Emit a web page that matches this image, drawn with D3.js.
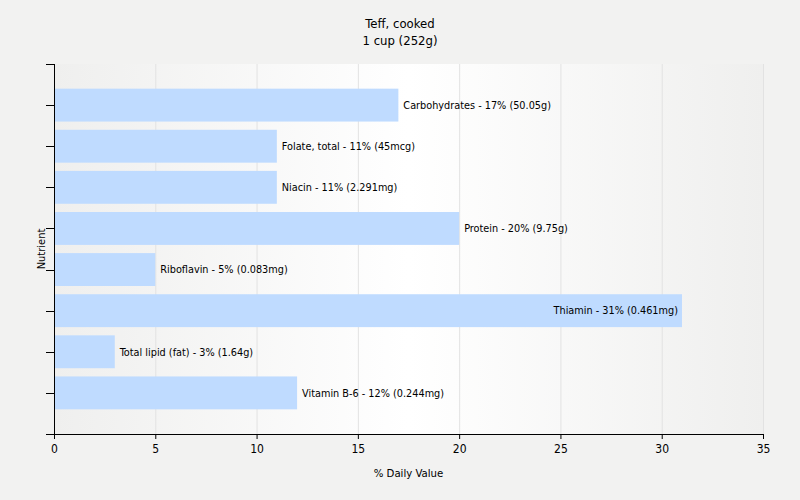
<!DOCTYPE html>
<html><head><meta charset="utf-8">
<script src="https://cdn.jsdelivr.net/npm/d3@7"></script>
<style>body{margin:0;background:#f2f2f1;}svg{display:block;font-family:Tahoma,"DejaVu Sans Condensed","Liberation Sans",sans-serif;}</style>
</head><body>
<svg id="c" width="800" height="500"></svg>
<script>
const categories = ["Carbohydrates","Folate, total","Niacin","Protein","Riboflavin","Thiamin","Total lipid (fat)","Vitamin B-6"];
const values = [17,11,11,20,5,31,3,12];
const amounts = ["50.05g","45mcg","2.291mg","9.75g","0.083mg","0.461mg","1.64g","0.244mg"];
const xTicks = [0,5,10,15,20,25,30,35];
const title = ["Teff, cooked","1 cup (252g)"];

const svg = d3.select("#c");
const L=54, R=763, T=64, B=434;
const x = d3.scaleLinear().domain([0,35]).range([L,R]);
const y = d3.scaleLinear().domain([0,categories.length+1]).range([T,B]);
const step = (B-T)/(categories.length+1);
const bh = step*0.8;

const defs = svg.append("defs");
const g = defs.append("linearGradient").attr("id","bg").attr("x1","0").attr("x2","1").attr("y1","0").attr("y2","0");
g.append("stop").attr("offset","0").attr("stop-color","#efefee");
g.append("stop").attr("offset","0.5").attr("stop-color","#ffffff");
g.append("stop").attr("offset","1").attr("stop-color","#efefee");
svg.append("rect").attr("x",L).attr("y",T).attr("width",R-L).attr("height",B-T).attr("fill","url(#bg)");

svg.append("g").selectAll("line").data(xTicks.slice(1)).join("line")
  .attr("x1",d=>x(d)+0.5).attr("x2",d=>x(d)+0.5).attr("y1",T).attr("y2",B)
  .attr("stroke","#e2e2e2").attr("stroke-width",1);

svg.append("g").selectAll("rect").data(categories).join("rect")
  .attr("x",x(0)).attr("y",(d,i)=>y(i+1)-bh/2).attr("width",(d,i)=>x(values[i])-x(0)).attr("height",bh)
  .attr("fill","#bfdbff");

svg.append("g").selectAll("text").data(categories).join("text")
  .each(function(d,i){
    const t = d3.select(this);
    const label = `${d} - ${values[i]}% (${amounts[i]})`;
    t.text(label).attr("y",y(i+1)).attr("dy","0.35em").attr("font-size",10.8).attr("fill","#000");
    if (values[i] > 25) t.attr("x",x(values[i])-4).attr("text-anchor","end");
    else t.attr("x",x(values[i])+5).attr("text-anchor","start");
  });

// axes
const xa = svg.append("g").attr("transform",`translate(0,${B})`)
  .call(d3.axisBottom(x).tickValues(xTicks).tickSize(5).tickSizeOuter(0));
xa.select(".domain").remove();
xa.append("line").attr("x1",L-8).attr("x2",R).attr("y1",0.5).attr("y2",0.5).attr("stroke","#000");
xa.selectAll("text").attr("font-size",12).attr("font-family","Tahoma,'DejaVu Sans Condensed',sans-serif").attr("fill","#000").attr("dy","0.9em");

const ya = svg.append("g").attr("transform",`translate(${L},0)`);
ya.append("line").attr("x1",0.5).attr("x2",0.5).attr("y1",T).attr("y2",B).attr("stroke","#000");
ya.selectAll("line.t").data(d3.range(categories.length+2)).join("line").attr("class","t")
  .attr("x1",-8).attr("x2",0).attr("y1",d=>Math.round(y(d))+0.5).attr("y2",d=>Math.round(y(d))+0.5).attr("stroke","#000");

svg.append("text").attr("x",(L+R)/2).attr("y",477).attr("text-anchor","middle").attr("font-size",11.3).text("% Daily Value");
svg.append("text").attr("transform",`translate(45,${(T+B)/2}) rotate(-90)`).attr("text-anchor","middle").attr("font-size",11).text("Nutrient");
svg.append("g").selectAll("text").data(title).join("text")
  .attr("x",400).attr("y",(d,i)=>28+i*17).attr("text-anchor","middle").attr("font-size",13).text(d=>d);
</script>
</body></html>
